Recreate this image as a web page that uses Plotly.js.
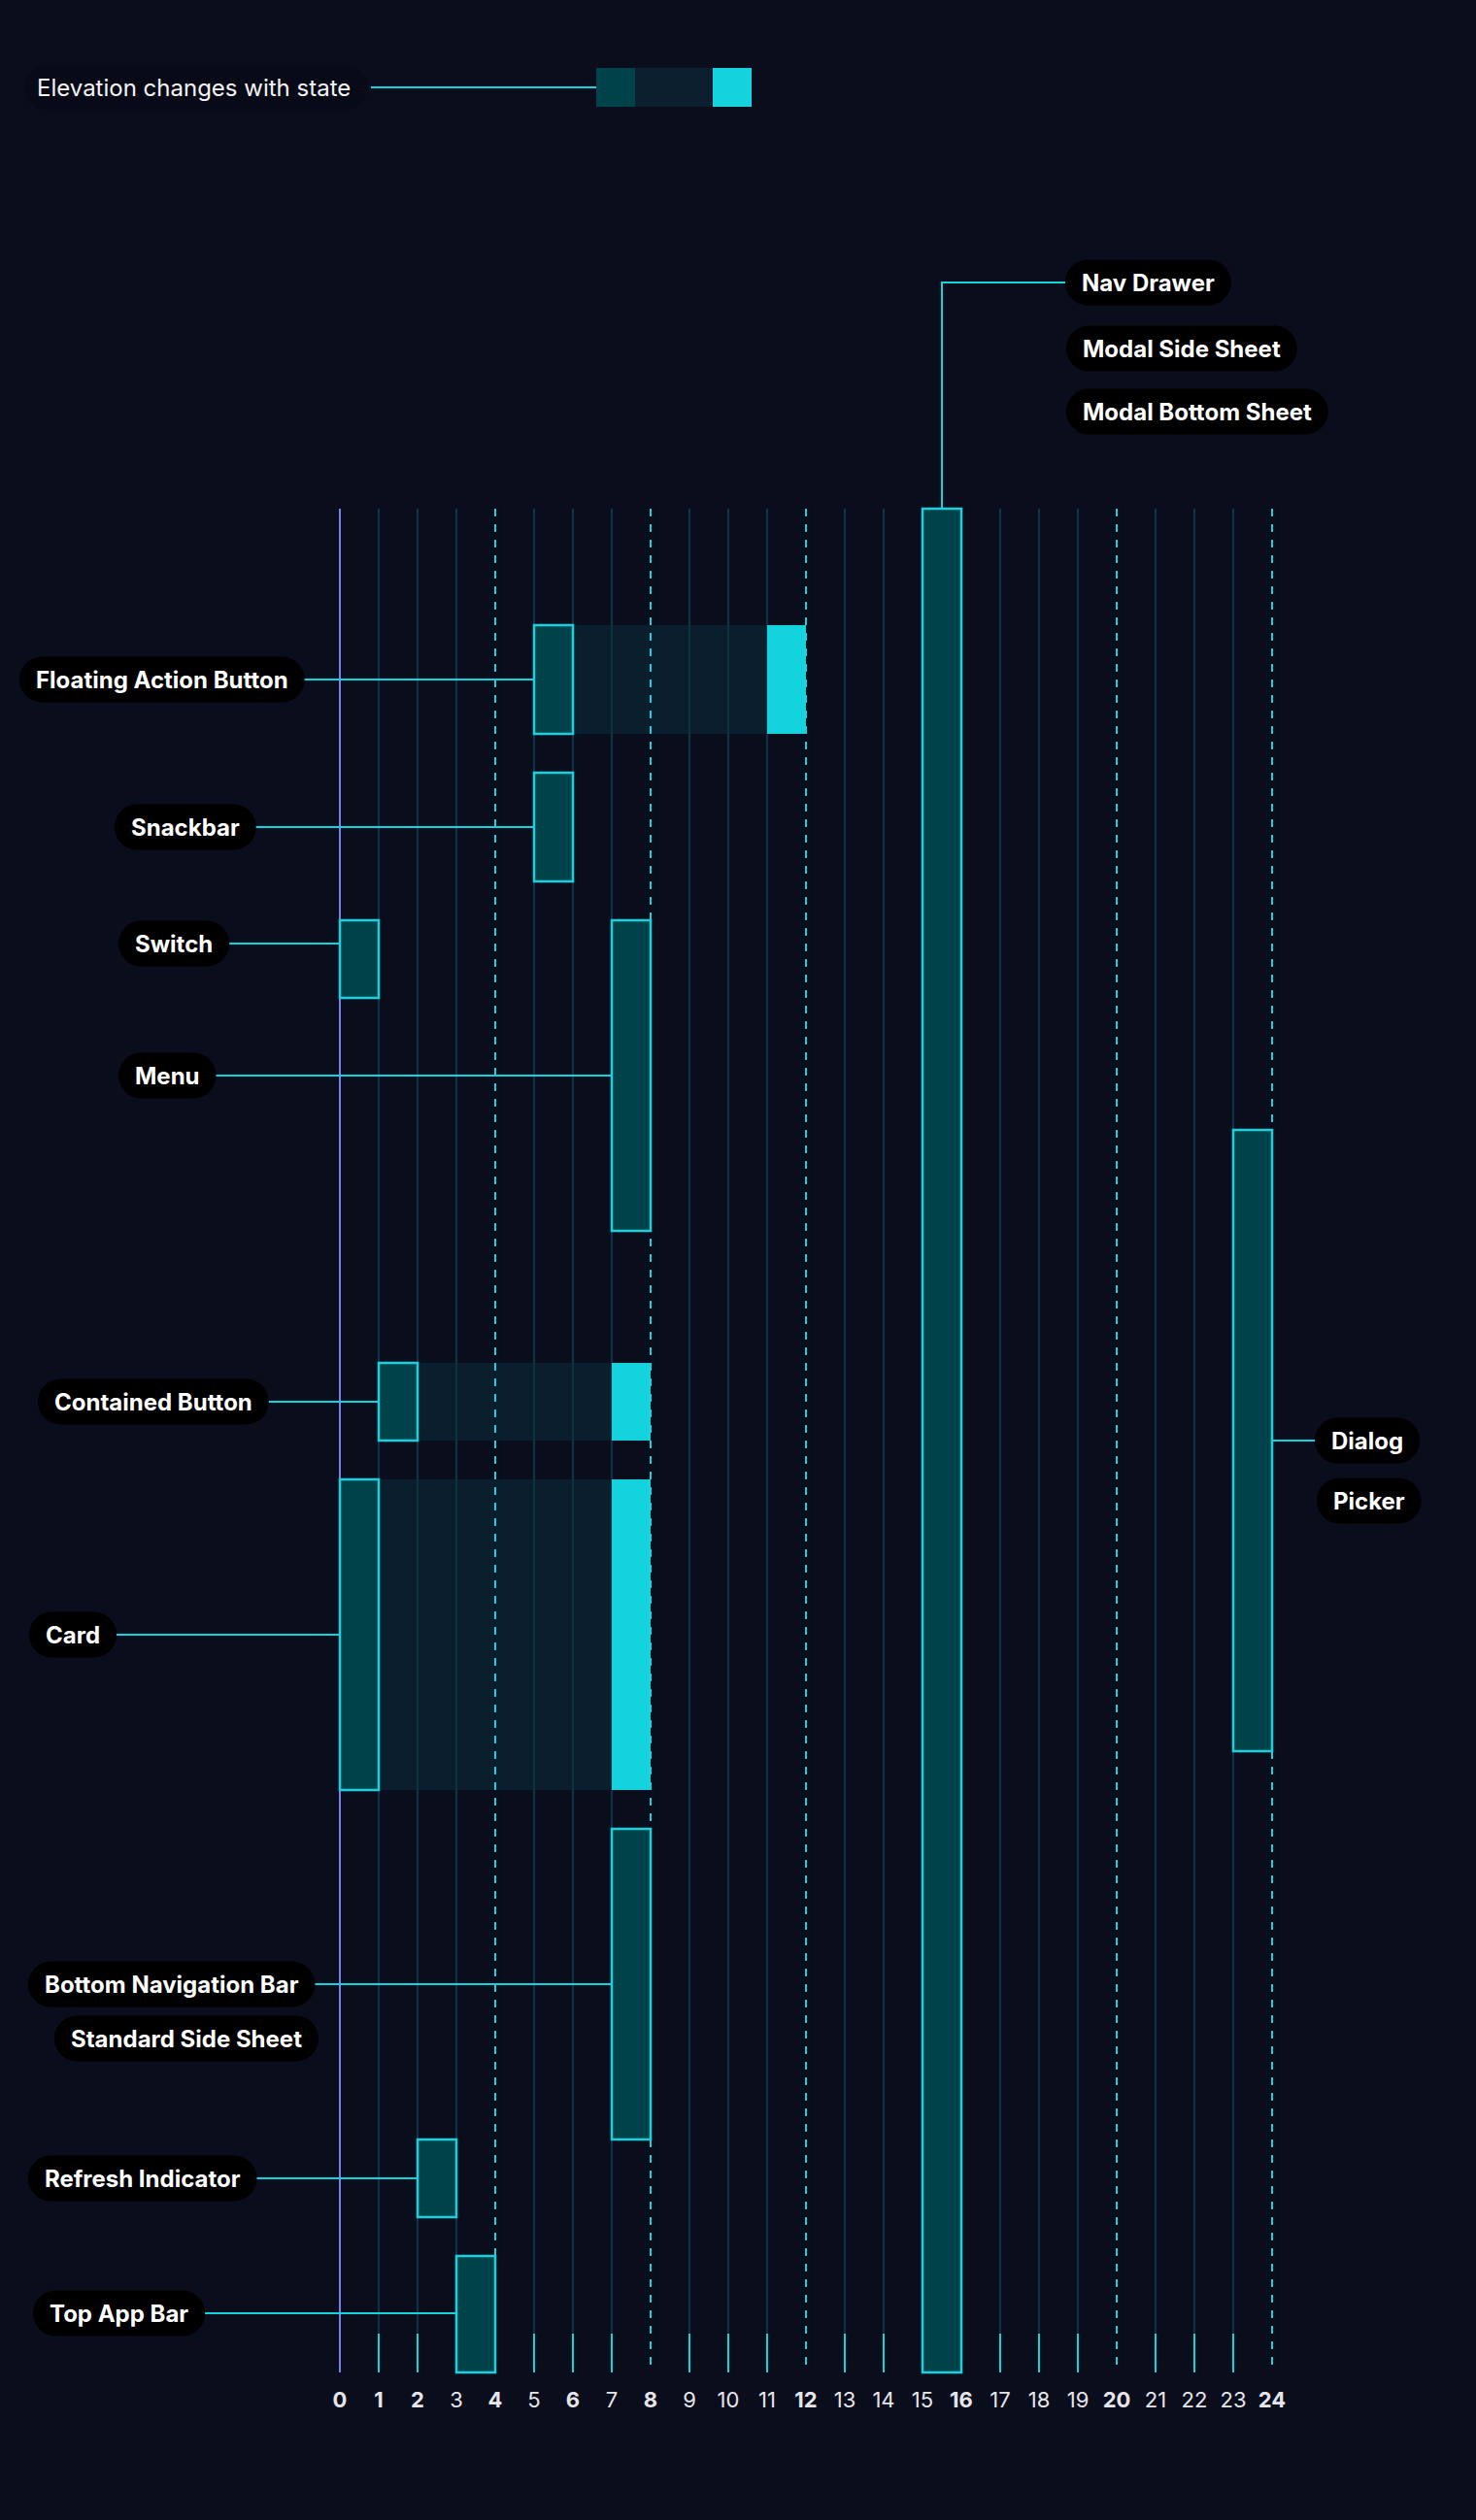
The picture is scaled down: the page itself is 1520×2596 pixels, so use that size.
<!DOCTYPE html>
<html>
<head>
<meta charset="utf-8">
<script src="https://cdn.plot.ly/plotly-3.0.1.min.js"></script>
<style>
html,body{margin:0;padding:0;background:#0a0d1c;}
#chart{width:1520px;height:2596px;}
</style>
</head>
<body>
<div id="chart"></div>
<script>
// ---------------- DATA ----------------
const components = ['Floating Action Button','Snackbar','Switch','Menu','Contained Button','Card',
  'Bottom Navigation Bar','Refresh Indicator','Top App Bar','Nav Drawer','Dialog'];
const restElevation   = [6, 6, 1, 8, 2, 1, 8, 3, 4, 16, 24];
const raisedElevation = [12, null, null, null, 8, 8, null, null, null, null, null];
// vertical rows occupied by each component (row units, top = 0)
const rowStart = [3.0, 6.8, 10.6, 10.6, 22, 25, 34, 42, 45, 0, 16];
const rowEnd   = [5.8, 9.6, 12.6, 18.6, 24, 33, 42, 44, 48, 48, 32];
// other components sharing the same elevation bar
const sharedWith = [[],[],[],[],[],[],['Standard Side Sheet'],[],[],['Modal Side Sheet','Modal Bottom Sheet'],['Picker']];
const elevationTicks = [0,1,2,3,4,5,6,7,8,9,10,11,12,13,14,15,16,17,18,19,20,21,22,23,24];
const boldTicks = [0,1,2,4,6,8,12,16,20,24];
const legendText = 'Elevation changes with state';

// ---------------- LAYOUT HELPERS ----------------
const W = 1520, H = 2596;
const UNIT = 40;          // px per unit on both axes
const X0PX = 350, Y0PX = 524;
const xu = px => (px - X0PX) / UNIT;
const yu = px => (px - Y0PX) / UNIT;
const ROWS = 48;

const C_BG = '#0a0d1c';
const C_REST = '#00424a';
const C_RANGE = 'rgba(12,48,62,0.5)';
const C_RANGE_KEY = '#0b1f2e';
const C_CYAN = '#14d2de';
const C_GRID = '#0b3444';
const C_ZERO = '#7680f0';
const FONT = 'Inter, Lato, sans-serif';

// label placement (flattened: component label followed by its shared labels)
const labelLeftPx   = [20, 118, 122, 122, 39, 30, 29, 56, 29, 34, 1097, 1098, 1098, 1354, 1356];
const labelCenterPx = [700, 852, 972, 1108, 1444, 1684, 2044, 2100, 2244, 2383, 291, 359, 424, 1484, 1546];

const labelText = [], labelOwner = [], labelIsMain = [];
components.forEach((c, i) => {
  labelText.push(c); labelOwner.push(i); labelIsMain.push(true);
  sharedWith[i].forEach(s => { labelText.push(s); labelOwner.push(i); labelIsMain.push(false); });
});

const ctx = document.createElement('canvas').getContext('2d');
const LABEL_SIZE = 24;
function textWidth(t, weight, size) { ctx.font = weight + ' ' + size + 'px Inter'; return ctx.measureText(t).width; }

function pillPath(x0, x1, yc, h) {
  const r = h / 2, k = 0.5523 * r;
  const y0 = yc - r, y1 = yc + r;
  return `M${x0 + r},${y0} L${x1 - r},${y0} C${x1 - r + k},${y0} ${x1},${yc - k} ${x1},${yc} ` +
         `C${x1},${yc + k} ${x1 - r + k},${y1} ${x1 - r},${y1} L${x0 + r},${y1} ` +
         `C${x0 + r - k},${y1} ${x0},${yc + k} ${x0},${yc} C${x0},${yc - k} ${x0 + r - k},${y0} ${x0 + r},${y0} Z`;
}

function build() {
  const shapes = [];
  const annotations = [];

  // grid lines
  elevationTicks.forEach(v => {
    if (v === 0) {
      shapes.push({type:'line', layer:'below', xref:'x', yref:'y', x0:v, x1:v, y0:0, y1:ROWS, line:{color:C_ZERO, width:2}});
    } else if (v % 4 === 0) {
      shapes.push({type:'line', layer:'above', xref:'x', yref:'y', x0:v, x1:v, y0:0, y1:ROWS, line:{color:C_CYAN, width:2, dash:'8px,8px'}});
    } else {
      shapes.push({type:'line', layer:'below', xref:'x', yref:'y', x0:v, x1:v, y0:0, y1:ROWS - 1, line:{color:C_GRID, width:2}});
      shapes.push({type:'line', layer:'below', xref:'x', yref:'y', x0:v, x1:v, y0:ROWS - 1, y1:ROWS, line:{color:C_CYAN, width:2}});
    }
  });

  // label pills + connectors
  const pillH = yu(Y0PX + 47);
  labelText.forEach((t, j) => {
    const w = textWidth(t, 700, LABEL_SIZE) + 34;
    const x0 = xu(labelLeftPx[j]);
    const x1 = x0 + w / UNIT;
    const yc = yu(labelCenterPx[j]);
    shapes.push({type:'path', layer:'above', xref:'x', yref:'y', path:pillPath(x0, x1, yc, pillH), fillcolor:'#000000', line:{width:0}});
    annotations.push({xref:'x', yref:'y', x:(x0 + x1) / 2, y:yc, text:t, showarrow:false, xanchor:'center', yanchor:'middle',
      font:{family:FONT, size:LABEL_SIZE, color:'#ffffff', weight:700}});
    if (labelIsMain[j]) {
      const i = labelOwner[j];
      const barL = restElevation[i] - 1, barR = restElevation[i];
      if (x0 > barR && yc >= rowStart[i] && yc <= rowEnd[i]) {
        shapes.push({type:'line', layer:'above', xref:'x', yref:'y', x0:barR, x1:x0, y0:yc, y1:yc, line:{color:C_CYAN, width:2}});
      } else if (x1 < barL) {
        shapes.push({type:'line', layer:'above', xref:'x', yref:'y', x0:x1, x1:barL, y0:yc, y1:yc, line:{color:C_CYAN, width:2}});
      } else {
        const xm = (barL + barR) / 2;
        shapes.push({type:'path', layer:'above', xref:'x', yref:'y', path:`M${xm},${rowStart[i]} L${xm},${yc} L${x0},${yc}`, line:{color:C_CYAN, width:2}});
      }
    }
  });

  // legend key at the top
  const ly = yu(90);
  const tw = textWidth(legendText, 400, 24);
  shapes.push({type:'path', layer:'below', xref:'x', yref:'y', path:pillPath(xu(25), xu(25) + (tw + 30) / UNIT, ly, yu(Y0PX + 46)), fillcolor:'#080a17', line:{width:0}});
  annotations.push({xref:'x', yref:'y', x:xu(36), y:ly, text:legendText, showarrow:false, xanchor:'left', yanchor:'middle',
    font:{family:FONT, size:24, color:'#f4f4f6', weight:400}});
  const kx = xu(614);
  shapes.push({type:'line', layer:'above', xref:'x', yref:'y', x0:xu(382), x1:kx, y0:ly, y1:ly, line:{color:C_CYAN, width:2}});
  shapes.push({type:'rect', layer:'above', xref:'x', yref:'y', x0:kx, x1:kx + 1, y0:ly - 0.5, y1:ly + 0.5, fillcolor:C_REST, line:{width:0}});
  shapes.push({type:'rect', layer:'above', xref:'x', yref:'y', x0:kx + 1, x1:kx + 3, y0:ly - 0.5, y1:ly + 0.5, fillcolor:C_RANGE_KEY, line:{width:0}});
  shapes.push({type:'rect', layer:'above', xref:'x', yref:'y', x0:kx + 3, x1:kx + 4, y0:ly - 0.5, y1:ly + 0.5, fillcolor:C_CYAN, line:{width:0}});

  // bars
  const centers = rowStart.map((s, i) => (s + rowEnd[i]) / 2);
  const spans = rowStart.map((s, i) => rowEnd[i] - s);
  const rIdx = raisedElevation.map((v, i) => v === null ? -1 : i).filter(i => i >= 0);

  const rangeTrace = {type:'bar', orientation:'h', hoverinfo:'skip', showlegend:false,
    y: rIdx.map(i => centers[i]), width: rIdx.map(i => spans[i]),
    base: rIdx.map(i => restElevation[i]), x: rIdx.map(i => raisedElevation[i] - 1 - restElevation[i]),
    marker:{color:C_RANGE, line:{width:0}}};
  const raisedTrace = {type:'bar', orientation:'h', hoverinfo:'skip', showlegend:false,
    y: rIdx.map(i => centers[i]), width: rIdx.map(i => spans[i]),
    base: rIdx.map(i => raisedElevation[i] - 1), x: rIdx.map(() => 1),
    marker:{color:C_CYAN, line:{width:0}}};
  const restTrace = {type:'bar', orientation:'h', hoverinfo:'skip', showlegend:false,
    y: centers, width: spans,
    base: restElevation.map(v => v - 1), x: restElevation.map(() => 1),
    marker:{color:C_REST, line:{color:C_CYAN, width:2.5}}};

  const layout = {
    width: W, height: H, autosize:false,
    margin:{l:0, r:0, t:0, b:0, pad:0},
    paper_bgcolor: C_BG, plot_bgcolor: C_BG,
    barmode:'overlay', showlegend:false,
    xaxis:{range:[xu(0), xu(W)], domain:[0,1], anchor:'free', position:(H - (Y0PX + ROWS * UNIT)) / H,
      showgrid:false, zeroline:false, showline:false, ticks:'', fixedrange:true,
      tickmode:'array', tickvals:elevationTicks,
      ticktext:elevationTicks.map(v => boldTicks.includes(v) ? '<b>' + v + '</b>' : String(v)),
      tickfont:{family:FONT, size:22, color:'#e6e6ea'}, ticklabelstandoff:13},
    yaxis:{range:[yu(H), yu(0)], domain:[0,1], visible:false, fixedrange:true},
    shapes, annotations
  };
  Plotly.newPlot('chart', [rangeTrace, raisedTrace, restTrace], layout, {staticPlot:true, displayModeBar:false});
}

const fontsReady = (document.fonts && document.fonts.load)
  ? Promise.all([document.fonts.load('700 24px Inter'), document.fonts.load('400 24px Inter')]).catch(() => {})
  : Promise.resolve();
fontsReady.then(build);
</script>
</body>
</html>
